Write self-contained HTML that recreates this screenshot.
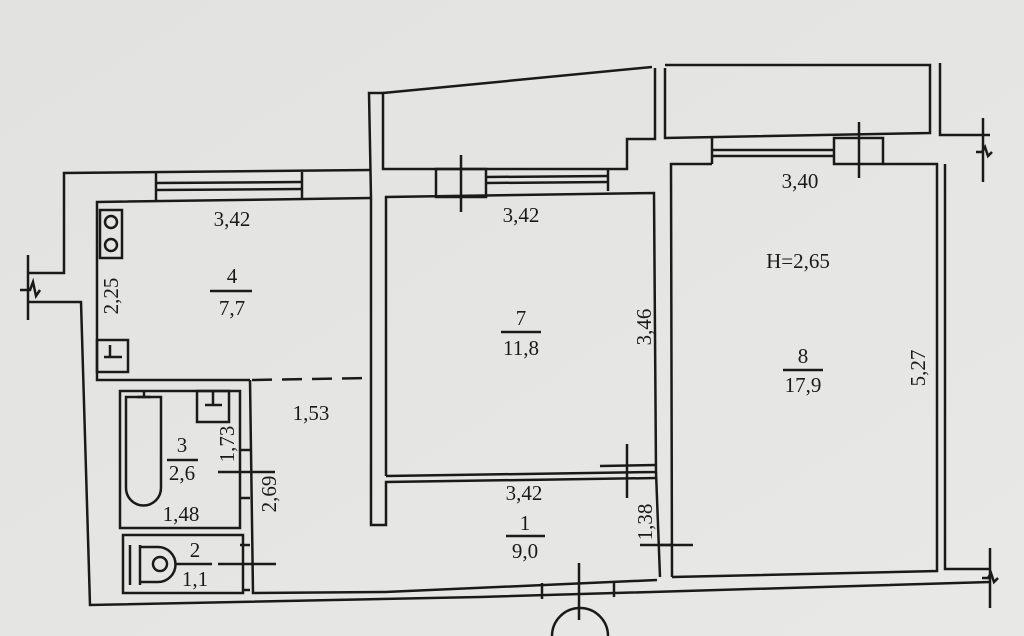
<!DOCTYPE html>
<html><head><meta charset="utf-8"><style>
html,body{margin:0;padding:0;width:1024px;height:636px;overflow:hidden;background:#e4e4e2}
svg{display:block}
text{font-family:"Liberation Serif",serif;font-size:21px;fill:#1a1a1a}
</style></head><body>
<svg width="1024" height="636" viewBox="0 0 1024 636" xmlns="http://www.w3.org/2000/svg">
<defs><linearGradient id="g" x1="0" y1="0" x2="1" y2="1"><stop offset="0" stop-color="#e2e2e0"/><stop offset="1" stop-color="#e8e8e6"/></linearGradient></defs>
<rect width="1024" height="636" fill="url(#g)"/>
<g fill="none" stroke="#1a1a1a" stroke-width="2.5" stroke-linejoin="miter">
<polyline points="370,170 64,173 64,273 28,273"/>
<polyline points="28,302 81,302 90,605 480,597 990,582"/>
<line x1="28" y1="255" x2="28" y2="320"/>
<polyline points="20,290 30,290 33,282 36,296 40,290"/>
<polyline points="371,198 97,202 97,380 250,380"/>
<line x1="156" y1="172" x2="156" y2="202"/><line x1="302" y1="172" x2="302" y2="200"/>
<line x1="156" y1="183" x2="302" y2="182"/><line x1="156" y1="190" x2="302" y2="189"/>
<line x1="252" y1="380" x2="370" y2="378" stroke-dasharray="20,10"/>
<rect x="100" y="210" width="22" height="48"/>
<circle cx="111" cy="222" r="6"/><circle cx="111" cy="245" r="6"/>
<rect x="97" y="340" width="31" height="32"/>
<line x1="104" y1="357" x2="122" y2="357"/><line x1="110" y1="345" x2="110" y2="357"/>
<rect x="120" y="391" width="120" height="137"/>
<path d="M126 397 H161 V488 A17 17 0 0 1 126 488 Z"/>
<line x1="137" y1="397" x2="151" y2="397"/><line x1="144" y1="392" x2="144" y2="397"/>
<rect x="197" y="391" width="32" height="31"/>
<line x1="205" y1="405" x2="222" y2="405"/><line x1="213" y1="392" x2="213" y2="405"/>
<rect x="123" y="535" width="120" height="58"/>
<line x1="130" y1="545" x2="130" y2="585"/><line x1="140" y1="545" x2="140" y2="585"/>
<path d="M140 547 H158 A17 17 0 0 1 158 582 H140"/>
<circle cx="160" cy="564" r="7"/>
<polyline points="250,380 253,593 385,592 657,580"/>
<line x1="240" y1="450" x2="250" y2="450"/><line x1="240" y1="498" x2="250" y2="498"/>
<line x1="240" y1="545" x2="250" y2="545"/><line x1="243" y1="590" x2="250" y2="590"/>
<line x1="218" y1="472" x2="275" y2="472"/><line x1="218" y1="564" x2="276" y2="564"/>
<polyline points="371,198 369,93 383,93 383,169 627,169 627,139 655,139 655,68"/>
<line x1="383" y1="93" x2="652" y2="67"/>
<polyline points="371,198 371,525 386,525 386,482 657,478"/>
<polyline points="386,476 386,197 654,193 656,472 386,476"/>
<rect x="436" y="169" width="50" height="28"/>
<line x1="461" y1="155" x2="461" y2="212"/>
<line x1="486" y1="177" x2="608" y2="176"/><line x1="486" y1="183" x2="608" y2="182"/>
<line x1="608" y1="169" x2="608" y2="191"/>
<line x1="600" y1="466" x2="656" y2="465"/>
<line x1="627" y1="444" x2="627" y2="498"/>
<polyline points="656,472 660,577"/>
<line x1="660" y1="545" x2="672" y2="545"/>
<line x1="640" y1="545" x2="693" y2="545"/>
<line x1="542" y1="583" x2="542" y2="599"/><line x1="614" y1="581" x2="614" y2="597"/>
<line x1="579" y1="563" x2="579" y2="620"/>
<path d="M552 636 A28 28 0 0 1 608 636"/>
<polyline points="665,68 665,138 930,133 930,65 665,65"/>
<polyline points="940,63 940,135 990,135"/>
<line x1="983" y1="118" x2="983" y2="182"/>
<polyline points="976,152 982,152 985,147 988,156 992,152"/>
<polyline points="672,577 671,164 712,164"/>
<polyline points="883,164 937,164 937,571 672,577"/>
<line x1="712" y1="138" x2="712" y2="164"/>
<line x1="712" y1="150" x2="834" y2="150"/><line x1="712" y1="156" x2="834" y2="156"/>
<rect x="834" y="138" width="49" height="26"/>
<line x1="859" y1="122" x2="859" y2="178"/>
<polyline points="945,164 945,569 990,569"/>
<line x1="990" y1="548" x2="990" y2="608"/>
<polyline points="982,578 988,578 991,573 994,582 998,578"/>
<line x1="210" y1="291" x2="252" y2="291"/>
<line x1="501" y1="332" x2="541" y2="332"/>
<line x1="783" y1="370" x2="823" y2="370"/>
<line x1="167" y1="460" x2="198" y2="460"/>
<line x1="506" y1="536" x2="545" y2="536"/>
<line x1="176" y1="564" x2="212" y2="564"/>
</g>
<text x="232" y="226" text-anchor="middle">3,42</text>
<text x="232" y="283" text-anchor="middle">4</text>
<text x="232" y="315" text-anchor="middle">7,7</text>
<text x="118" y="296" text-anchor="middle" transform="rotate(-90 118 296)">2,25</text>
<text x="311" y="420" text-anchor="middle">1,53</text>
<text x="182" y="452" text-anchor="middle">3</text>
<text x="182" y="480" text-anchor="middle">2,6</text>
<text x="181" y="521" text-anchor="middle">1,48</text>
<text x="234" y="444" text-anchor="middle" transform="rotate(-90 234 444)">1,73</text>
<text x="276" y="494" text-anchor="middle" transform="rotate(-90 276 494)">2,69</text>
<text x="195" y="557" text-anchor="middle">2</text>
<text x="195" y="586" text-anchor="middle">1,1</text>
<text x="521" y="222" text-anchor="middle">3,42</text>
<text x="521" y="325" text-anchor="middle">7</text>
<text x="521" y="355" text-anchor="middle">11,8</text>
<text x="651" y="327" text-anchor="middle" transform="rotate(-90 651 327)">3,46</text>
<text x="524" y="500" text-anchor="middle">3,42</text>
<text x="525" y="530" text-anchor="middle">1</text>
<text x="525" y="558" text-anchor="middle">9,0</text>
<text x="652" y="522" text-anchor="middle" transform="rotate(-90 652 522)">1,38</text>
<text x="800" y="188" text-anchor="middle">3,40</text>
<text x="798" y="268" text-anchor="middle">H=2,65</text>
<text x="803" y="363" text-anchor="middle">8</text>
<text x="803" y="392" text-anchor="middle">17,9</text>
<text x="925" y="368" text-anchor="middle" transform="rotate(-90 925 368)">5,27</text>
</svg>
</body></html>
